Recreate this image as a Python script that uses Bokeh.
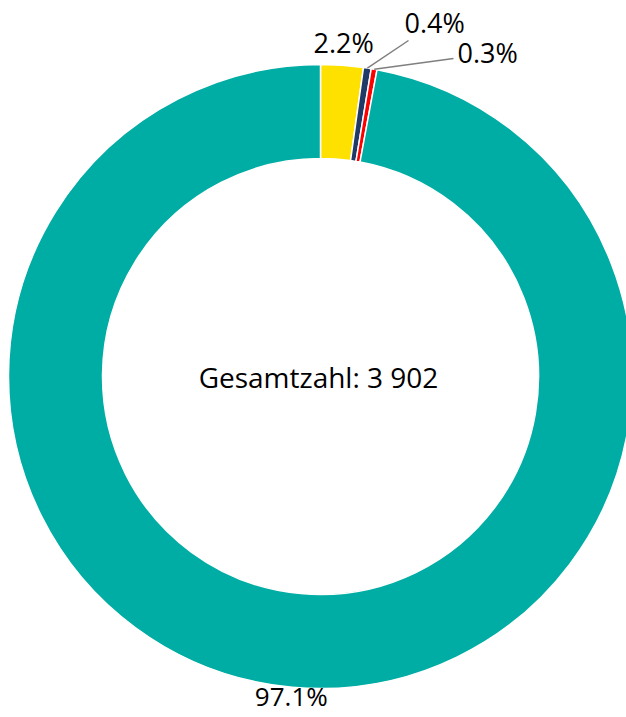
import math
from bokeh.plotting import figure
from bokeh.models import Range1d
from bokeh.core.properties import value
from bokeh.embed import file_html
from bokeh.resources import INLINE

# Data
categories = ["Gelb", "Dunkelblau", "Rot", "Türkis"]
shares = [2.2, 0.4, 0.3, 97.1]
labels = ["2.2%", "0.4%", "0.3%", "97.1%"]
colors = ["#FFE100", "#1F3A66", "#FF0000", "#00ADA4"]
total_label = "Gesamtzahl: 3 902"

W, H = 626, 717
cx, cy = 320, 341
r_out, r_in = 312, 218

p = figure(width=W, height=H, x_range=Range1d(0, W), y_range=Range1d(0, H),
           output_backend="svg", toolbar_location=None, min_border=0)
p.axis.visible = False
p.grid.visible = False
p.outline_line_color = None
p.background_fill_color = "white"

total = sum(shares)
starts, ends, mids = [], [], []
acc = 0.0
for s in shares:
    a0 = math.pi / 2 - 2 * math.pi * acc / total
    acc += s
    a1 = math.pi / 2 - 2 * math.pi * acc / total
    starts.append(a0)
    ends.append(a1)
    mids.append((a0 + a1) / 2)

p.annular_wedge(x=cx, y=cy, inner_radius=r_in, outer_radius=r_out,
                start_angle=starts, end_angle=ends, direction="clock",
                fill_color=colors, line_color="white", line_width=1.5)

font = value("Open Sans")
fs = "27px"
direct = {0: (335, "27px"), 3: (321, "26px")}
for i, (r, size) in direct.items():
    x = cx + r * math.cos(mids[i])
    y = cy + r * math.sin(mids[i])
    p.text(x=[x], y=[y], text=[labels[i]], text_font=font, text_font_size=size,
           text_align="center", text_baseline="middle", text_color="#000000")

leader_end = {1: (408, 677), 2: (453, 659)}
label_pos = {1: (404, 695), 2: (457, 665)}
for i, (ex, ey) in leader_end.items():
    sx = cx + r_out * math.cos(mids[i])
    sy = cy + r_out * math.sin(mids[i])
    p.line(x=[sx, ex], y=[sy, ey], line_color="#7F7F7F", line_width=1.5)
    lx, ly = label_pos[i]
    p.text(x=[lx], y=[ly], text=[labels[i]], text_font=font,
           text_font_size=fs, text_align="left", text_baseline="middle",
           text_color="#000000")

p.text(x=[cx - 2], y=[cy], text=[total_label], text_font=font, text_font_size="28px",
       text_align="center", text_baseline="middle", text_color="#000000")

open("out.html", "w").write(file_html(p, INLINE))
